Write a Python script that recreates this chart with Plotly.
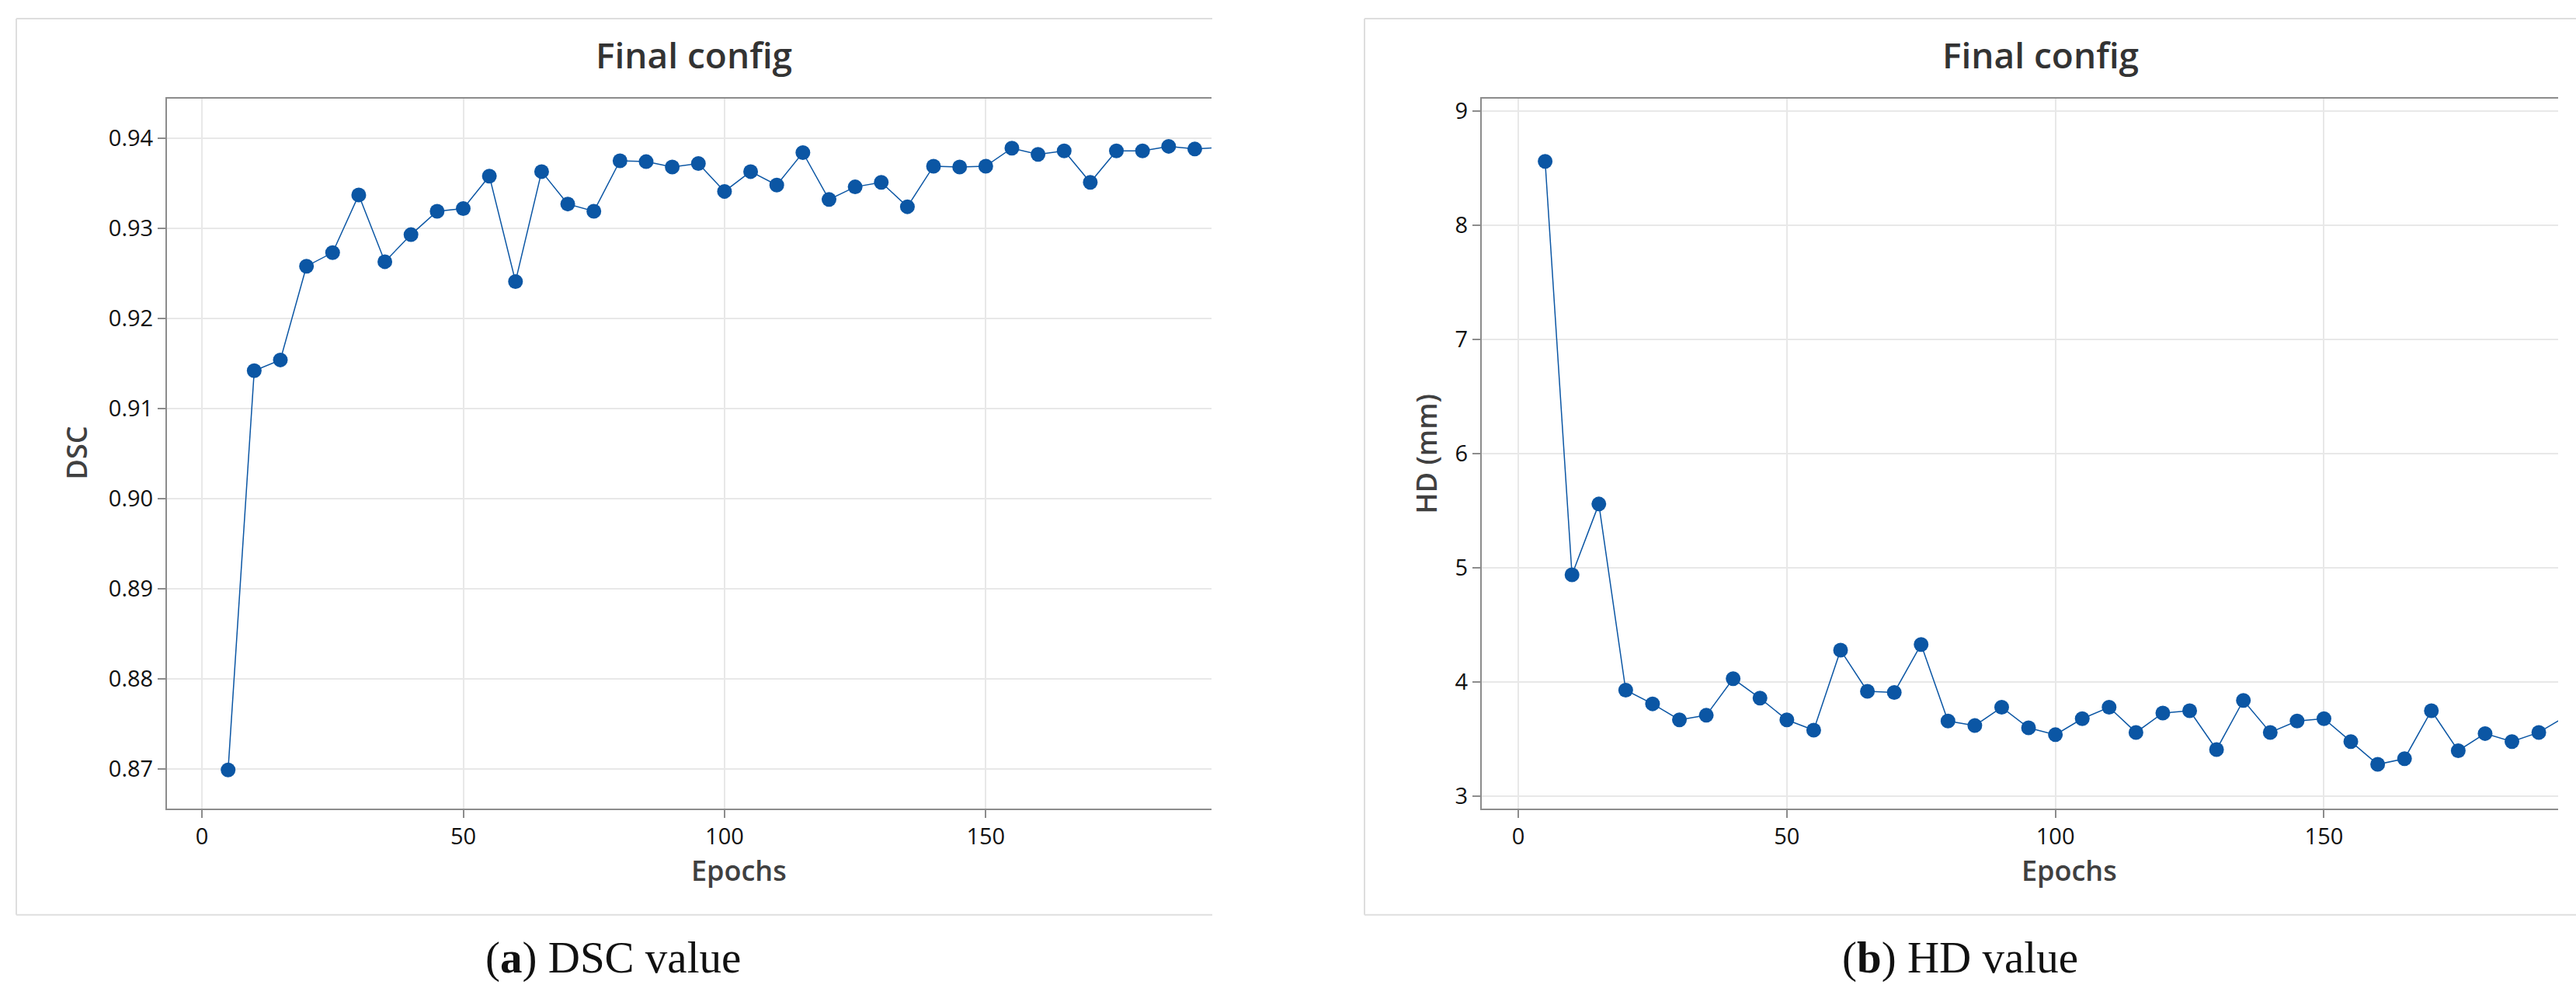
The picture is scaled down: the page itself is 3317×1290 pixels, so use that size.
import plotly.graph_objects as go

W, H = 3317, 1290

# values
epochs = [5, 10, 15, 20, 25, 30, 35, 40, 45, 50, 55, 60, 65, 70, 75, 80, 85, 90, 95, 100,
          105, 110, 115, 120, 125, 130, 135, 140, 145, 150, 155, 160, 165, 170, 175, 180,
          185, 190, 195]
dsc = [0.8699, 0.9142, 0.9154, 0.9258, 0.9273, 0.9337, 0.9263, 0.9293, 0.9319, 0.9322,
       0.9358, 0.9241, 0.9363, 0.9327, 0.9319, 0.9375, 0.9374, 0.9368, 0.9372, 0.9341,
       0.9363, 0.9348, 0.9384, 0.9332, 0.9346, 0.9351, 0.9324, 0.9369, 0.9368, 0.9369,
       0.9389, 0.9382, 0.9386, 0.9351, 0.9386, 0.9386, 0.9391, 0.9388, 0.9390]
hd = [8.56, 4.94, 5.56, 3.93, 3.81, 3.67, 3.71, 4.03, 3.86, 3.67,
      3.58, 4.28, 3.92, 3.91, 4.33, 3.66, 3.62, 3.78, 3.60, 3.54,
      3.68, 3.78, 3.56, 3.73, 3.75, 3.41, 3.84, 3.56, 3.66, 3.68,
      3.48, 3.28, 3.33, 3.75, 3.40, 3.55, 3.48, 3.56, 3.70]
x_ticks = [0, 50, 100, 150]
dsc_ticks = [0.87, 0.88, 0.89, 0.90, 0.91, 0.92, 0.93, 0.94]
hd_ticks = [3, 4, 5, 6, 7, 8, 9]

BLUE = "#0b56a4"
AXIS = "#8c8c8c"
GRID = "#e8e8e8"
FRAME = "#dedede"
SANS = "Open Sans"


def px(x):
    return x / W


def py(y):
    return 1 - y / H


fig = go.Figure()

for xa, ya, yv in [("x", "y", dsc), ("x2", "y2", hd)]:
    fig.add_trace(go.Scatter(x=epochs, y=yv, xaxis=xa, yaxis=ya, mode="lines+markers",
                             line=dict(color=BLUE, width=1.5),
                             marker=dict(color=BLUE, size=19),
                             showlegend=False))

axis_common = dict(ticks="outside", ticklen=10, tickwidth=2, tickcolor=AXIS,
                   showline=True, linecolor=AXIS, linewidth=2,
                   showgrid=True, gridcolor=GRID, gridwidth=2, zeroline=False,
                   tickfont=dict(family=SANS, size=29, color="#111111"))

fig.update_layout(
    width=W, height=H, autosize=False,
    margin=dict(l=0, r=0, t=0, b=0),
    paper_bgcolor="white", plot_bgcolor="white",
    xaxis=dict(domain=[px(215), px(1560)], range=[-6.7, 193.2], tickvals=x_ticks,
               anchor="y", mirror=True, **axis_common),
    yaxis=dict(domain=[py(1042), py(123)], range=[0.86566, 0.94437], tickvals=dsc_ticks,
               tickformat=".2f", anchor="x", **axis_common),
    xaxis2=dict(domain=[px(1908), px(3294)], range=[-6.8, 193.6], tickvals=x_ticks,
                anchor="y2", mirror=True, **axis_common),
    yaxis2=dict(domain=[py(1042), py(123)], range=[2.896, 9.108], tickvals=hd_ticks,
                anchor="x2", **axis_common),
)

# panel frames (right side cut off)
for x0, x1 in [(21, 1561), (1757, 3317)]:
    for a, b, c, d in [(x0, 19, x1, 19), (x0, 1180, x1, 1180), (x0, 19, x0, 1180)]:
        fig.add_shape(type="line", xref="paper", yref="paper",
                      x0=px(a), y0=py(b), x1=px(c), y1=py(d),
                      line=dict(color=FRAME, width=2))


def label(text, x, y, size, color, weight="normal", angle=0, family=SANS):
    fig.add_annotation(text=text, xref="paper", yref="paper", x=px(x), y=py(y),
                       xanchor="center", yanchor="middle", showarrow=False, textangle=angle,
                       font=dict(family=family, size=size, color=color, weight=weight))


label("Final config", 893, 65, 46, "#333333", weight=600)
label("Final config", 2627, 65, 46, "#333333", weight=600)
label("Epochs", 951, 1122, 36, "#404040", weight=600)
label("Epochs", 2664, 1122, 36, "#404040", weight=600)
label("DSC", 98, 582, 36, "#404040", weight=600, angle=-90)
label("HD (mm)", 1836, 583, 36, "#404040", weight=600, angle=-90)
label("(<b>a</b>) DSC value", 789, 1236, 57, "#111111", family="Liberation Serif")
label("(<b>b</b>) HD value", 2524, 1236, 57, "#111111", family="Liberation Serif")

fig.write_html("out.html", config={"displayModeBar": False},
               post_script="document.body.style.margin='0';")
